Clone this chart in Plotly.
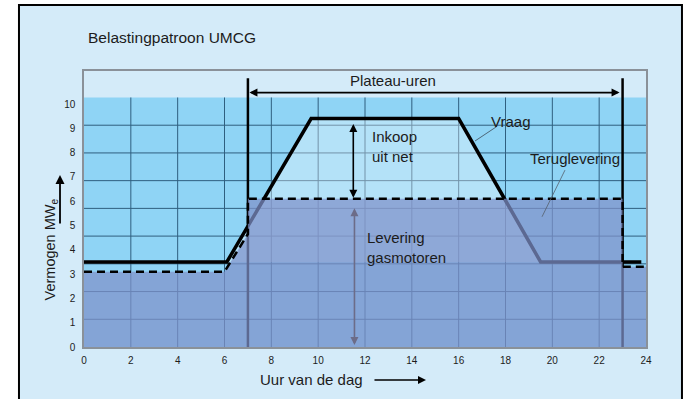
import plotly.graph_objects as go

# Electricity demand of the hospital over a day (MWe)
vraag_uur = [0, 6.1, 9.7, 16.0, 19.5, 23.8]
vraag_mw = [3.5, 3.5, 9.4, 9.4, 3.5, 3.5]

# Output of the gas engines (MWe)
levering_uur = [0, 6.0, 7.0, 7.0, 23.0, 23.0, 24]
levering_mw = [3.1, 3.1, 4.65, 6.1, 6.1, 3.3, 3.3]

# Start and end of the plateau hours
plateau_uren = [7, 23]

x_ticks = list(range(0, 25, 2))
y_ticks = list(range(0, 11))

TEXT = "#1c1c1c"
FONT = "Liberation Sans, Arial, sans-serif"
Y_MAX = 11.36          # top of the frame (white band above the grid)
GRID_TOP = 10.27       # top of the blue grid area
MARKER_TOP = 11.06     # top of the plateau marker lines
ARROW_Y = 10.47        # height of the plateau-uren arrow
piek = max(vraag_mw)
basis = vraag_mw[0]
plateau_niveau = max(levering_mw)
pijl_x = 11.5

fig = go.Figure()

# baseline for the demand band
fig.add_trace(go.Scatter(x=[0, 24], y=[basis, basis], mode="lines",
                         line=dict(width=0), hoverinfo="skip", showlegend=False))
# demand curve with a light band between base load and peak
fig.add_trace(go.Scatter(x=vraag_uur, y=vraag_mw, mode="lines", fill="tonexty",
                         fillcolor="rgba(255,255,255,0.33)",
                         line=dict(color="black", width=3.5),
                         hoverinfo="skip", showlegend=False))
# plateau marker lines
fig.add_trace(go.Scatter(x=[plateau_uren[0], plateau_uren[0], None, plateau_uren[1], plateau_uren[1]],
                         y=[0, MARKER_TOP, None, 0, MARKER_TOP], mode="lines",
                         line=dict(color="black", width=2.5),
                         hoverinfo="skip", showlegend=False))
# gas engine output, translucent fill over everything beneath
fig.add_trace(go.Scatter(x=levering_uur, y=levering_mw, mode="lines", fill="tozeroy",
                         fillcolor="rgba(128,146,202,0.72)",
                         line=dict(color="black", width=2.5, dash="8px,5px"),
                         hoverinfo="skip", showlegend=False))

shapes = []
# outer panel
shapes.append(dict(type="rect", xref="paper", yref="paper",
                   x0=-0.1157, x1=1.064, y0=-0.25, y1=1.239,
                   fillcolor="#d4ebf9", line=dict(color="black", width=2), layer="below"))
# blue grid area
shapes.append(dict(type="rect", xref="x", yref="y", x0=0, x1=24, y0=0, y1=GRID_TOP,
                   fillcolor="#8fd4f5", line=dict(width=0), layer="below"))
for xv in x_ticks[1:-1]:
    shapes.append(dict(type="line", xref="x", yref="y", x0=xv, x1=xv, y0=0, y1=GRID_TOP,
                       line=dict(color="#2f5f7f", width=1), layer="below"))
for k in range(1, 9):
    yv = GRID_TOP * k / 9
    shapes.append(dict(type="line", xref="x", yref="y", x0=0, x1=24, y0=yv, y1=yv,
                       line=dict(color="#2f5f7f", width=1), layer="below"))
# leader lines for the labels
shapes.append(dict(type="line", xref="x", yref="y", x0=17.62, y0=9.07, x1=16.7, y1=8.48,
                   line=dict(color="#3c4a58", width=0.8)))
shapes.append(dict(type="line", xref="x", yref="y", x0=20.54, y0=7.28, x1=19.56, y1=5.36,
                   line=dict(color="#55606c", width=0.8)))

ann = []
txt = dict(family=FONT, size=15, color=TEXT)
ann.append(dict(text="Belastingpatroon UMCG", xref="paper", yref="paper",
                x=0.0036, y=1.123, xanchor="left", yanchor="middle", showarrow=False,
                font=dict(family=FONT, size=15.5, color=TEXT)))
ann.append(dict(text="Plateau-uren", xref="x", yref="y", x=13.2, y=10.96,
                xanchor="center", yanchor="middle", showarrow=False, font=txt))
ann.append(dict(text="Inkoop<br>uit net", xref="x", yref="y", x=12.2, y=8.27,
                xanchor="left", yanchor="middle", align="left", showarrow=False, font=txt))
ann.append(dict(text="Vraag", xref="x", yref="y", x=17.3, y=9.27,
                xanchor="left", yanchor="middle", showarrow=False, font=txt))
ann.append(dict(text="Teruglevering", xref="x", yref="y", x=18.95, y=7.75,
                xanchor="left", yanchor="middle", showarrow=False, font=txt))
ann.append(dict(text="Levering<br>gasmotoren", xref="x", yref="y", x=12.0, y=4.1,
                xanchor="left", yanchor="middle", align="left", showarrow=False, font=txt))
ann.append(dict(text="Vermogen MW<sub>e</sub>", xref="paper", yref="paper",
                x=-0.058, y=0.355, xanchor="center", yanchor="middle", textangle=-90,
                showarrow=False, font=dict(family=FONT, size=14.5, color=TEXT)))
ann.append(dict(text="Uur van de dag", xref="paper", yref="paper",
                x=0.405, y=-0.116, xanchor="center", yanchor="middle",
                showarrow=False, font=txt))
# axis direction arrows
ann.append(dict(text="", xref="paper", yref="paper", x=0.6085, y=-0.1196, ax=-53, ay=0,
                showarrow=True, arrowhead=2, arrowsize=1, arrowwidth=1.6, arrowcolor="black"))
ann.append(dict(text="", xref="paper", yref="paper", x=-0.0427, y=0.623, ax=0, ay=50,
                showarrow=True, arrowhead=2, arrowsize=1, arrowwidth=1.8, arrowcolor="black"))
# plateau-uren span
ann.append(dict(text="", xref="x", yref="y", x=plateau_uren[1], y=ARROW_Y,
                axref="x", ayref="y", ax=plateau_uren[0], ay=ARROW_Y,
                showarrow=True, arrowhead=2, startarrowhead=2, arrowside="end+start",
                arrowsize=1, arrowwidth=1.6, arrowcolor="black", standoff=3, startstandoff=0))
# inkoop uit net
ann.append(dict(text="", xref="x", yref="y", x=pijl_x, y=plateau_niveau,
                axref="x", ayref="y", ax=pijl_x, ay=piek,
                showarrow=True, arrowhead=2, startarrowhead=2, arrowside="end+start",
                arrowsize=1, arrowwidth=1.6, arrowcolor="black", standoff=1, startstandoff=4))
# levering gasmotoren
ann.append(dict(text="", xref="x", yref="y", x=pijl_x + 0.05, y=0,
                axref="x", ayref="y", ax=pijl_x + 0.05, ay=plateau_niveau,
                showarrow=True, arrowhead=2, startarrowhead=2, arrowside="end+start",
                arrowsize=1, arrowwidth=1.6, arrowcolor="#6c6c88", standoff=2, startstandoff=8))

fig.update_layout(
    width=696, height=399,
    margin=dict(l=84, r=50, t=71, b=52),
    paper_bgcolor="white", plot_bgcolor="white",
    shapes=shapes, annotations=ann,
    showlegend=False, hovermode=False,
    xaxis=dict(range=[0, 24], tickvals=x_ticks, showgrid=False, zeroline=False,
               showline=True, mirror=True, linecolor="#8a9199", linewidth=1.5,
               ticks="outside", ticklen=3, tickcolor="rgba(0,0,0,0)",
               tickfont=dict(family=FONT, size=10, color=TEXT), fixedrange=True),
    yaxis=dict(range=[0, Y_MAX], tickvals=y_ticks, showgrid=False, zeroline=False,
               showline=True, mirror=True, linecolor="#8a9199", linewidth=1.5,
               ticks="outside", ticklen=5, tickcolor="rgba(0,0,0,0)",
               tickfont=dict(family=FONT, size=10, color=TEXT), fixedrange=True),
)

fig.write_html("out.html", config={"displayModeBar": False})
